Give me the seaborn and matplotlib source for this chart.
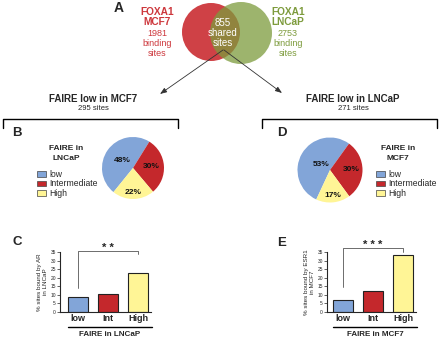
import numpy as np
import pandas as pd
import seaborn as sns
import matplotlib.pyplot as plt
from matplotlib.patches import Circle, Patch

sns.set_style("ticks")
plt.rcParams["font.family"] = ["Liberation Sans", "DejaVu Sans"]

# data
venn_mcf7 = 1981
venn_lncap = 2753
venn_shared = 855
pie_labels = ["low", "Intermediate", "High"]
pie_b = [48, 30, 22]   # FAIRE low in MCF7 -> FAIRE in LNCaP
pie_d = [53, 30, 17]   # FAIRE low in LNCaP -> FAIRE in MCF7
bar_cats = ["low", "Int", "High"]
bar_c = [8.5, 10.4, 22.8]   # % sites bound by AR in LNCaP
bar_e = [7.2, 12.5, 33.5]   # % sites bound by ESR1 in MCF7

colors = ["#82a5d8", "#c4282c", "#fff596"]
red_v, green_v = "#cd373c", "#7d9b3c"

W, H = 440, 338
fig = plt.figure(figsize=(W / 100, H / 100), dpi=100)


def rect(x0, y0, x1, y1):
    return [x0 / W, 1 - y1 / H, (x1 - x0) / W, (y1 - y0) / H]


ov = fig.add_axes([0, 0, 1, 1])
ov.set_xlim(0, W)
ov.set_ylim(H, 0)
ov.axis("off")

# panel A - venn
ov.add_patch(Circle((211, 32), 29, color=red_v, alpha=0.95, lw=0))
ov.add_patch(Circle((241, 33), 31, color=green_v, alpha=0.75, lw=0))
ov.text(119, 8, "A", fontsize=10, weight="bold", ha="center", va="center")
for x, c, name, n in [(157, red_v, "MCF7", venn_mcf7), (288, green_v, "LNCaP", venn_lncap)]:
    ov.text(x, 12, "FOXA1", color=c, fontsize=7.3, weight="bold", ha="center", va="center")
    ov.text(x, 22, name, color=c, fontsize=7.3, weight="bold", ha="center", va="center")
    for y, s in [(33, str(n)), (43, "binding"), (53, "sites")]:
        ov.text(x, y, s, color=c, fontsize=6.5, ha="center", va="center")
for y, s in [(23, str(venn_shared)), (33, "shared"), (43, "sites")]:
    ov.text(223, y, s, color="white", fontsize=7, ha="center", va="center")
arrow = dict(arrowstyle="-|>,head_length=0.4,head_width=0.15", color="#333", lw=0.6, shrinkA=0, shrinkB=0)
ov.annotate("", xy=(160, 94), xytext=(223, 50), arrowprops=arrow)
ov.annotate("", xy=(282, 93), xytext=(224, 50), arrowprops=arrow)

# headers and brackets
for x, t, n in [(93, "FAIRE low in MCF7", "295 sites"), (353, "FAIRE low in LNCaP", "271 sites")]:
    ov.text(x, 99, t, fontsize=7, weight="bold", ha="center", va="center")
    ov.text(x, 109, n, fontsize=5.5, ha="center", va="center")
ov.plot([3, 3, 178, 178], [128, 119, 119, 128], color="black", lw=1)
ov.plot([262, 262, 437, 437], [128, 119, 119, 128], color="black", lw=1)
for x, y, s in [(17, 133, "B"), (282, 133, "D"), (17, 242, "C"), (282, 243, "E")]:
    ov.text(x, y, s, fontsize=9.5, weight="bold", ha="center", va="center")


def draw_pie(cx, cy, r, vals, start, dists):
    ax = fig.add_axes(rect(cx - r, cy - r, cx + r, cy + r))
    wedges, _, autotexts = ax.pie(vals, colors=colors, startangle=start, counterclock=False,
                                  autopct=lambda p: f"{p:.0f}%", wedgeprops=dict(linewidth=0),
                                  textprops=dict(fontsize=6, weight="bold", color="#111"))
    for w, t, d in zip(wedges, autotexts, dists):
        ang = np.deg2rad((w.theta1 + w.theta2) / 2)
        t.set_position((d * np.cos(ang), d * np.sin(ang)))
    ax.set_xlim(-1, 1)
    ax.set_ylim(-1, 1)


draw_pie(133, 168, 31, pie_b, 231, [0.42, 0.6, 0.8])
draw_pie(330, 170, 32.5, pie_d, 245, [0.32, 0.66, 0.8])

handles = [Patch(facecolor=c, edgecolor="#444", lw=0.5) for c in colors]
for tx, lx, l1, l2 in [(66, 37, "FAIRE in", "LNCaP"), (398, 376, "FAIRE in", "MCF7")]:
    ov.text(tx, 149, l1, fontsize=6, weight="bold", ha="center", va="center")
    ov.text(tx, 159, l2, fontsize=6, weight="bold", ha="center", va="center")
    fig.legend(handles, pie_labels, loc="upper left", bbox_to_anchor=(lx / W, 1 - 170 / H),
               fontsize=6.2, frameon=False, handlelength=1.1, handleheight=0.6,
               handletextpad=0.3, labelspacing=0.05, borderpad=0, borderaxespad=0)


def draw_bars(box, vals, xlim, ylabel, sig_y, stars, xlabel, line_x):
    ax = fig.add_axes(rect(*box))
    ax.patch.set_alpha(0)
    df = pd.DataFrame({"group": bar_cats, "pct": vals})
    sns.barplot(data=df, x="group", y="pct", hue="group", palette=colors, width=0.65,
                saturation=1, edgecolor="#222", linewidth=0.8, legend=False, ax=ax)
    ax.set_ylim(0, 35)
    ax.set_xlim(*xlim)
    ax.set_yticks(range(0, 36, 5))
    ax.tick_params(axis="y", labelsize=3.5, length=2, width=0.5, pad=1)
    ax.tick_params(axis="x", length=0, pad=1.5)
    for lab in ax.get_xticklabels():
        lab.set_fontsize(6.5)
        lab.set_fontweight("bold")
    ax.set_xlabel("")
    ax.set_ylabel(ylabel, fontsize=4.5, labelpad=2, linespacing=1.1)
    sns.despine(ax=ax)
    for sp in ax.spines.values():
        sp.set_linewidth(0.8)
    ax.plot([0, 0, 2, 2], sig_y, color="#555", lw=0.6, clip_on=False)
    ax.text(1, sig_y[1] + 1.8, stars, fontsize=8, weight="bold", ha="center", va="center")
    ov.plot(line_x, [327, 327], color="black", lw=1)
    ov.text(sum(line_x) / 2, 334, xlabel, fontsize=5.8, weight="bold", ha="center", va="center")


draw_bars((60, 252, 151, 312), bar_c, (-0.6, 2.43), "% sites bound by AR\nin LNCaP",
          [14, 35.6, 35.6, 33.8], "* *", "FAIRE in LNCaP", [68, 152])
draw_bars((327, 252, 416, 312), bar_e, (-0.53, 2.43), "% sites bound by ESR1\nin MCF7",
          [14.6, 37.3, 37.3, 35], "* * *", "FAIRE in MCF7", [333, 417])

fig.savefig("out.png", dpi=100)
